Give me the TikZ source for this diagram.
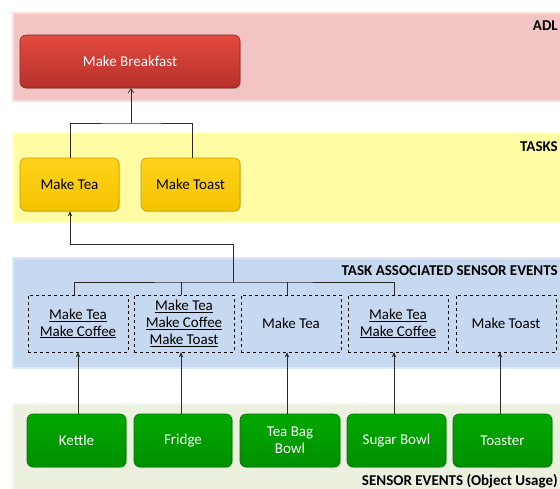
\documentclass[tikz,border=0pt]{standalone}
\usepackage{fontspec}
\setmainfont{Carlito}
\usetikzlibrary{shadows,arrows.meta,calc}
\definecolor{adlfill}{HTML}{F2C4C4}
\definecolor{adledge}{HTML}{F9E0E0}
\definecolor{taskfill}{HTML}{FFFCA4}
\definecolor{taskedge}{HTML}{FFFDD2}
\definecolor{assocfill}{HTML}{C6D9F0}
\definecolor{assocedge}{HTML}{DCE8F7}
\definecolor{sensfill}{HTML}{EBF1DE}
\definecolor{sensedge}{HTML}{F4F8EC}
\definecolor{redtop}{HTML}{E34B3F}
\definecolor{redbot}{HTML}{B5302A}
\definecolor{yeltop}{HTML}{FFD21A}
\definecolor{yelbot}{HTML}{F5C400}
\definecolor{grntop}{HTML}{00A800}
\definecolor{grnbot}{HTML}{009000}
\definecolor{lineclr}{HTML}{2B2B2B}
\tikzset{
  band/.style={anchor=north west, draw=#1edge, fill=#1fill, line width=1.5pt,
    minimum width=600pt, inner sep=0pt, drop shadow={shadow xshift=1.5pt, shadow yshift=-1.5pt, opacity=0.35}},
  box/.style={rounded corners=6pt, draw=#1bot!80!black, line width=0.6pt,
    top color=#1top, bottom color=#1bot, inner sep=0pt, align=center,
    font=\fontsize{15}{16.7}\selectfont,
    drop shadow={shadow xshift=1pt, shadow yshift=-1pt, opacity=0.3}},
  dbox/.style={draw=black, dashed, line width=0.6pt, minimum width=100pt, minimum height=57pt,
    inner sep=0pt, align=center, font=\fontsize{15}{16.7}\selectfont},
  lbl/.style={anchor=east, font=\bfseries\fontsize{15}{17}\selectfont, inner sep=0pt},
  conn/.style={draw=lineclr, line width=0.7pt},
  arr/.style={conn, -{Stealth[length=5pt,width=4.5pt]}},
  arro/.style={conn, -{Straight Barb[length=4pt,width=6pt]}}
}
\begin{document}
\begin{tikzpicture}[x=1pt,y=-1pt]
\useasboundingbox (0,0) rectangle (560,488);
\clip (0,0) rectangle (560,488);
\fill[white] (0,0) rectangle (560,488);
% bands
\node[band=adl, minimum height=88pt] (adlband) at (12,12) {};
\node[band=task, minimum height=89pt] (taskband) at (12,132) {};
\node[band=assoc, minimum height=110pt] (assocband) at (12,257) {};
\node[band=sens, minimum height=100pt] (sensband) at (12,403) {};
% band labels
\node[lbl] (ladl) at (558,26) {ADL};
\node[lbl] (ltask) at (558,147) {TASKS};
\node[lbl] (lassoc) at (558,271) {TASK ASSOCIATED SENSOR EVENTS};
\node[lbl] (lsens) at (558,481) {SENSOR EVENTS (Object Usage)};
% ADL
\node[box=red, text=white, minimum width=220pt, minimum height=53pt] (mb) at (130,61.5) {Make Breakfast};
% Tasks
\node[box=yel, minimum width=99pt, minimum height=53pt] (mt) at (69.5,184.5) {Make Tea};
\node[box=yel, minimum width=99pt, minimum height=53pt] (mto) at (190.5,184.5) {Make Toast};
% dashed boxes
\node[dbox] (d1) at (78,323.5) {\underline{Make Tea}\\\underline{Make Coffee}};
\node[dbox] (d2) at (184,323.5) {\underline{Make Tea}\\\underline{Make Coffee}\\\underline{Make Toast}};
\node[dbox] (d3) at (291,323.5) {Make Tea};
\node[dbox] (d4) at (398,323.5) {\underline{Make Tea}\\\underline{Make Coffee}};
\node[dbox] (d5) at (506,323.5) {Make Toast};
% sensor boxes
\node[box=grn, text=white, minimum width=99pt, minimum height=53pt] (g1) at (76.5,440.5) {Kettle};
\node[box=grn, text=white, minimum width=98pt, minimum height=53pt] (g2) at (183,440.5) {Fridge};
\node[box=grn, text=white, minimum width=100pt, minimum height=53pt] (g3) at (290,440.5) {Tea Bag\\Bowl};
\node[box=grn, text=white, minimum width=99pt, minimum height=53pt] (g4) at (396.5,440.5) {Sugar Bowl};
\node[box=grn, text=white, minimum width=99pt, minimum height=53pt] (g5) at (502.5,440.5) {Toaster};
% connectors: sensors -> associated events
\draw[arr] (g1.north -| 78,0) -- (d1.south -| 78,0);
\draw[arr] (g2.north -| 181,0) -- (d2.south -| 181,0);
\draw[arr] (g3.north -| 287,0) -- (d3.south -| 287,0);
\draw[arr] (g4.north -| 394,0) -- (d4.south -| 394,0);
\draw[arr] (g5.north -| 500,0) -- (d5.south -| 500,0);
% bus
\coordinate (j1) at (233,282);
\coordinate (j2) at (233,244);
\draw[conn] (d1.north -| 74,0) |- (j1) -| (d4.north -| 394,0);
\draw[conn] (d2.north -| 181,0) -- (181,282);
\draw[conn] (d3.north -| 287,0) -- (287,282);
\draw[arr] (j1) -- (j2) -| (mt.south -| 70,0);
% tasks -> ADL
\coordinate (t1) at (131,123);
\draw[conn] (mt.north -| 70,0) |- (t1) -| (mto.north -| 192,0);
\draw[arro] (t1) -- (mb.south -| 131,0);
\end{tikzpicture}
\end{document}
